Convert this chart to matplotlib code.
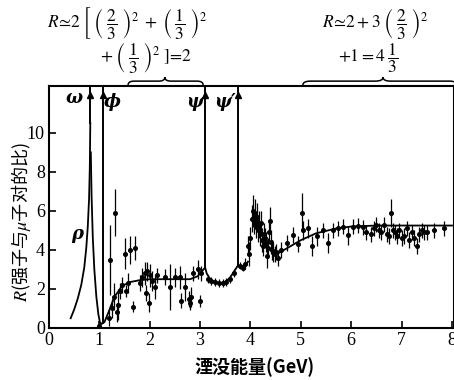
import matplotlib
matplotlib.use('Agg')
import matplotlib.pyplot as plt
from matplotlib.path import Path
from matplotlib.patches import PathPatch

plt.rcParams['font.family'] = ['Liberation Serif', 'DejaVu Serif']
plt.rcParams['mathtext.fontset'] = 'stix'

# ---------------- data ----------------
# rho resonance, left and right branches
rho_left_E = [0.43, 0.50, 0.57, 0.64, 0.70, 0.74, 0.77, 0.795, 0.81, 0.82]
rho_left_R = [0.5, 0.95, 1.5, 2.2, 3.1, 4.1, 5.2, 6.6, 8.2, 10.5]
rho_right_E = [0.83, 0.845, 0.87, 0.90, 0.94, 0.98, 1.01, 1.04, 1.065]
rho_right_R = [9.0, 6.8, 4.6, 3.0, 1.6, 0.7, 0.3, 0.2, 0.25]
# continuum 1 - 3.95 GeV
cont1_E = [1.065, 1.1, 1.18, 1.3, 1.45, 1.6, 1.8, 2.0, 2.5, 2.8, 2.95, 3.05, 3.1,
           3.13, 3.2, 3.3, 3.4, 3.5, 3.6, 3.7, 3.75, 3.8, 3.9, 3.95]
cont1_R = [0.25, 0.3, 0.8, 1.6, 2.15, 2.35, 2.45, 2.5, 2.5, 2.5, 2.65, 2.95, 3.1,
           2.8, 2.5, 2.35, 2.3, 2.35, 2.6, 3.0, 3.2, 3.15, 3.2, 3.4]
# continuum above charm threshold
cont2_E = [4.5, 4.7, 5.0, 5.3, 5.7, 6.0, 6.5, 7.0, 7.5, 8.0]
cont2_R = [3.75, 4.05, 4.5, 4.85, 5.1, 5.2, 5.25, 5.25, 5.25, 5.25]

# resonances: name, energy, base R
res_names = ['ω', 'ϕ', 'ψ', 'ψ′']
res_E = [0.82, 1.065, 3.1, 3.75]
res_base = [10.5, 0.25, 3.1, 3.2]

# measured points
pts_E = [1.0, 1.2, 1.21, 1.25, 1.3, 1.32, 1.35, 1.37, 1.4, 1.45, 1.5, 1.52, 1.57, 1.6,
         1.67, 1.7, 1.8, 1.85, 1.9, 1.92, 1.95, 1.98, 2.0, 2.05, 2.1, 2.15, 2.3, 2.4,
         2.5, 2.6, 2.63, 2.7, 2.78, 2.8, 2.82, 2.86, 2.95, 3.0, 3.02,
         3.15, 3.22, 3.3, 3.38, 3.45, 3.52, 3.6, 3.67, 3.8, 3.86, 3.9,
         3.95, 3.97, 4.0, 4.02, 4.04, 4.06, 4.08, 4.1, 4.12, 4.14, 4.16, 4.18, 4.2,
         4.22, 4.24, 4.26, 4.28, 4.3, 4.32, 4.34, 4.36, 4.38, 4.4, 4.42, 4.45, 4.48,
         4.5, 4.55, 4.6,
         4.72, 4.84, 4.95, 5.03, 5.05, 5.14, 5.22, 5.33, 5.44, 5.54, 5.64, 5.74, 5.83,
         5.93, 6.03, 6.13, 6.23, 6.3, 6.4, 6.45, 6.5, 6.55, 6.6, 6.65, 6.7, 6.75, 6.79,
         6.82, 6.87, 6.9, 6.95, 7.0, 7.05, 7.1, 7.15, 7.2, 7.25, 7.3, 7.35, 7.4, 7.45,
         7.5, 7.64, 7.84]
pts_R = [0.1, 0.5, 3.5, 1.0, 1.6, 5.9, 0.8, 1.2, 1.9, 2.2, 3.8, 1.9, 2.3, 4.0,
         1.1, 4.1, 2.3, 2.6, 2.8, 1.8, 2.9, 1.3, 2.7, 2.4, 2.1, 2.7, 2.6, 2.1,
         2.6, 2.6, 1.4, 2.1, 1.5, 1.3, 1.6, 2.8, 3.0, 1.4, 2.8,
         2.5, 2.4, 2.35, 2.3, 2.3, 2.35, 2.5, 2.8, 3.2, 3.1, 3.3,
         4.2, 3.8, 4.6, 5.6, 6.0, 5.4, 5.9, 5.2, 5.7, 5.0, 5.3, 4.8, 5.4,
         4.5, 4.2, 4.8, 4.6, 4.4, 3.7, 4.1, 4.9, 5.5, 4.4, 4.0, 3.9, 3.8,
         3.9, 3.6, 4.0,
         4.35, 4.75, 4.3, 5.9, 5.0, 5.1, 4.2, 4.7, 5.0, 4.35, 5.0, 5.1, 5.2,
         4.75, 5.2, 5.25, 5.15, 4.9, 4.8, 5.1, 5.3, 5.0, 4.9, 5.3, 4.8, 4.7, 5.9,
         5.0, 4.9, 4.7, 5.0, 4.6, 4.7, 5.1, 4.5, 4.9, 4.6, 4.2, 4.8, 5.0, 4.9,
         4.9, 5.0, 5.1]
pts_err = [0.1, 0.4, 1.8, 0.5, 0.7, 1.2, 0.5, 0.8, 0.4, 0.4, 0.8, 0.3, 0.5, 0.7,
           0.3, 0.6, 0.4, 0.5, 0.6, 0.4, 0.5, 0.5, 0.6, 0.5, 0.6, 0.4, 0.4, 1.2,
           0.5, 0.6, 0.4, 0.7, 0.4, 0.4, 0.5, 0.4, 0.5, 0.3, 0.4,
           0.2, 0.2, 0.2, 0.2, 0.2, 0.2, 0.2, 0.2, 0.2, 0.2, 0.3,
           0.5, 0.6, 0.6, 0.7, 0.8, 0.6, 0.7, 0.6, 0.7, 0.6, 0.7, 0.6, 0.6,
           0.6, 0.5, 0.6, 0.5, 0.5, 0.6, 0.5, 0.6, 0.7, 0.6, 0.5, 0.5, 0.4,
           0.4, 0.4, 0.4,
           0.4, 0.4, 0.4, 1.0, 0.5, 0.5, 0.5, 0.5, 0.4, 0.5, 0.4, 0.4, 0.4,
           0.5, 0.4, 0.4, 0.4, 0.4, 0.4, 0.4, 0.4, 0.4, 0.4, 0.4, 0.4, 0.4, 0.7,
           0.4, 0.4, 0.4, 0.4, 0.4, 0.4, 0.4, 0.4, 0.4, 0.4, 0.4, 0.4, 0.4, 0.4,
           0.4, 0.4, 0.4]

x_ticks = [0, 1, 2, 3, 4, 5, 6, 7, 8]
y_ticks = [0, 2, 4, 6, 8, 10]

# ---------------- figure ----------------
W, H = 454, 380
fig = plt.figure(figsize=(W / 100, H / 100), dpi=100)
ax = fig.add_axes([49 / W, 1 - 328 / H, (W - 49) / W, (328 - 86) / H])
ax.set_xlim(0, 8.04)
ax.set_ylim(0, 12.4)

lw = 1.3
ax.plot(rho_left_E, rho_left_R, color='black', lw=lw)
ax.plot(rho_right_E, rho_right_R, color='black', lw=lw)
ax.plot(cont1_E, cont1_R, color='black', lw=lw)
ax.plot(cont2_E, cont2_R, color='black', lw=lw)

for e, b in zip(res_E, res_base):
    ax.plot([e, e], [b, 12.4], color='black', lw=1.4)
    ax.plot([e], [11.95], marker='^', ms=4, color='black')

ax.errorbar(pts_E, pts_R, yerr=pts_err, fmt='o', ms=2.6, color='black',
            ecolor='black', elinewidth=0.9, capsize=0)

gfont = dict(family='DejaVu Serif', style='italic', weight='bold', fontsize=13,
             ha='center', va='center')
ax.text(0.5, 11.8, 'ω', **gfont)
ax.text(1.25, 11.6, 'ϕ', **gfont)
ax.text(2.9, 11.6, 'ψ', **gfont)
ax.text(3.5, 11.6, 'ψ′', **gfont)
ax.text(0.55, 4.8, 'ρ', **gfont)

ax.set_xticks(x_ticks)
ax.set_yticks(y_ticks)
ax.set_xticklabels([str(v) for v in x_ticks])
ax.set_yticklabels(['0' if v == 0 else str(v) for v in y_ticks])
ax.tick_params(direction='in', length=5, width=1.2, labelsize=13, pad=3)
for s in ax.spines.values():
    s.set_linewidth(1.5)

ax.set_xlabel('湮没能量(GeV)', family=['Noto Sans CJK SC', 'DejaVu Sans'],
              fontsize=13, weight='bold', va='center')
ax.xaxis.set_label_coords((254 - 49) / (W - 49), -(367 - 328) / (328 - 86))
ax.set_ylabel('$R$(强子与$\\mu$子对的比)', family=['Noto Sans CJK SC', 'DejaVu Sans'],
              fontsize=13, va='center')
ax.yaxis.set_label_coords(-(49 - 21) / (W - 49), (328 - 222) / (328 - 86))


# braces above the plot
def brace(x0, x1, xm, yb, h, q):
    verts = [(x0, yb), (x0, yb + h / 2), (x0 + q, yb + h / 2),
             (xm - q, yb + h / 2), (xm, yb + h / 2), (xm, yb + h),
             (xm, yb + h / 2), (xm + q, yb + h / 2),
             (x1 - q, yb + h / 2), (x1, yb + h / 2), (x1, yb)]
    codes = [Path.MOVETO, Path.CURVE3, Path.CURVE3, Path.LINETO, Path.CURVE3, Path.CURVE3,
             Path.CURVE3, Path.CURVE3, Path.LINETO, Path.CURVE3, Path.CURVE3]
    p = PathPatch(Path(verts, codes), fill=False, lw=1.1, color='black', clip_on=False)
    ax.add_patch(p)


brace(1.57, 3.06, 2.3, 12.45, 0.4, 0.12)
brace(5.04, 8.1, 6.63, 12.45, 0.4, 0.15)

fs = 12.5
fig.text(47 / W, 1 - 23 / H,
         r'$R\!\simeq\!2\;\left[\;\left(\;\dfrac{2}{3}\;\right)^{2}\;+\;\left(\;\dfrac{1}{3}\;\right)^{2}\right.$',
         fontsize=fs, ha='left', va='center')
fig.text(100 / W, 1 - 57 / H,
         r'$+\;\left(\;\dfrac{1}{3}\;\right)^{2}\left.\;\right]\!=\!2$',
         fontsize=fs, ha='left', va='center')
fig.text(322 / W, 1 - 23 / H,
         r'$R\!\simeq\!2+3\;\left(\;\dfrac{2}{3}\;\right)^{2}$',
         fontsize=fs, ha='left', va='center')
fig.text(338 / W, 1 - 58 / H,
         r'$+1=4\;\dfrac{1}{3}$',
         fontsize=fs, ha='left', va='center')

fig.savefig('out.png', dpi=100)
